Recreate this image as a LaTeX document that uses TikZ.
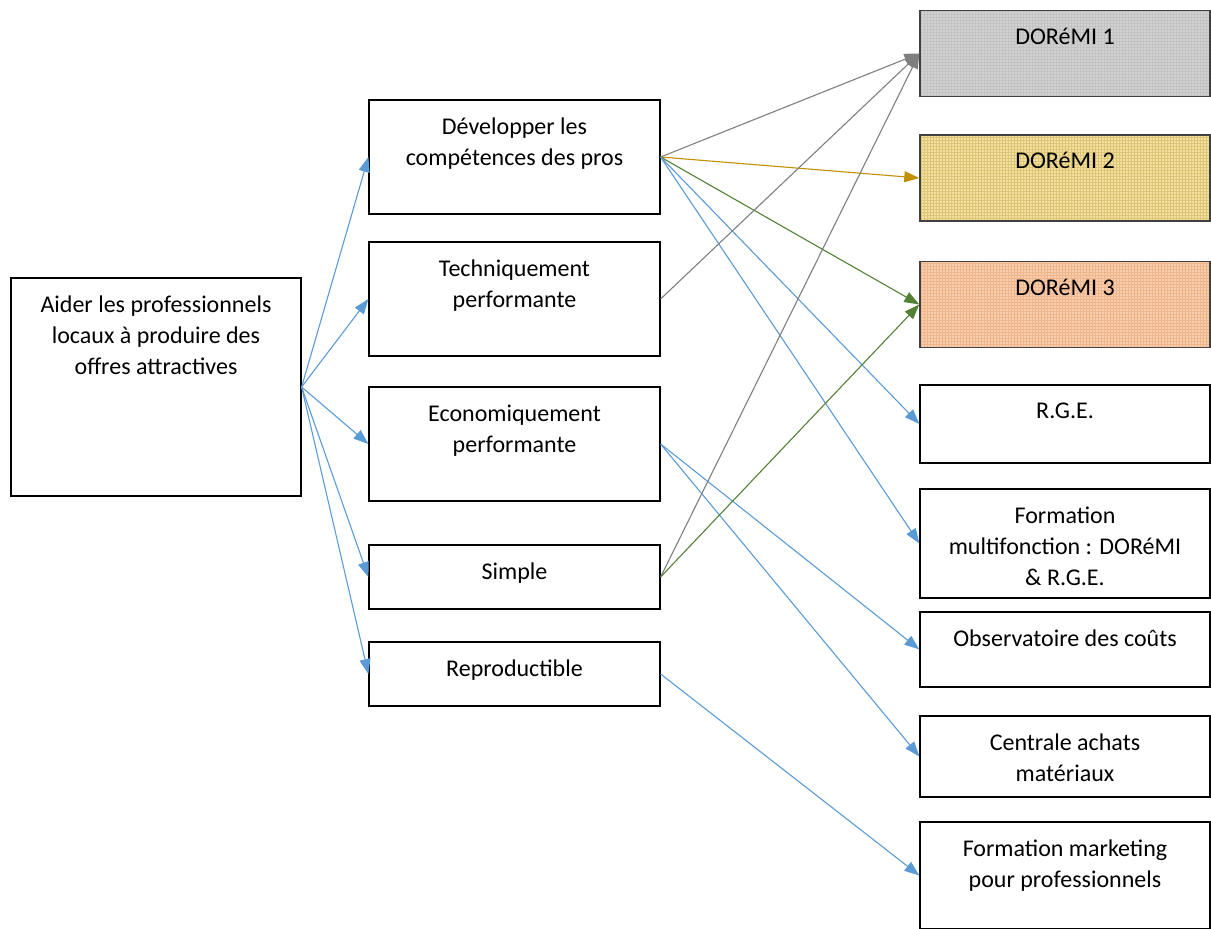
\documentclass[tikz,border=0pt]{standalone}
\usepackage{fontspec}
\setmainfont{Carlito}
\usetikzlibrary{arrows.meta,patterns}
\definecolor{arrblue}{HTML}{5B9BD5}
\definecolor{arrgray}{HTML}{7F7F7F}
\definecolor{arrgold}{HTML}{BF9000}
\definecolor{arrgreen}{HTML}{538135}
\definecolor{gbase}{HTML}{D2D2D2}
\definecolor{ggrid}{HTML}{9A9A9A}
\definecolor{ybase}{HTML}{F2E0A0}
\definecolor{ygrid}{HTML}{D2AE3C}
\definecolor{obase}{HTML}{F8CDB0}
\definecolor{ogrid}{HTML}{E8955A}
\definecolor{dborder}{HTML}{404040}
\tikzset{
  box/.style={draw=black, line width=1.2pt, rectangle, inner sep=0pt},
  dbox/.style={draw=dborder, line width=1.4pt, rectangle, inner sep=0pt,
    minimum width=290pt, minimum height=86pt},
  txt/.style={font=\fontsize{24}{31}\selectfont, align=center, anchor=north, inner sep=0pt},
  arr/.style={line width=1.1pt, -{Triangle[length=15pt,width=11pt]}},
}
\begin{document}
\begin{tikzpicture}[x=1pt,y=-1pt]
\useasboundingbox (0,0) rectangle (1211,929);
% left column
\node[box, minimum width=290pt, minimum height=218pt] (aider) at (156,387) {};
\node[txt] (taider) at ([yshift=-18pt]aider.north) {Aider les professionnels\\locaux à produire des\\offres attractives};
% middle column
\node[box, minimum width=291pt, minimum height=114pt] (dev) at (514.5,157) {};
\node[txt] (tdev) at ([yshift=-18pt]dev.north) {Développer les\\compétences des pros};
\node[box, minimum width=291pt, minimum height=114pt] (tech) at (514.5,299) {};
\node[txt] (ttech) at ([yshift=-18pt]tech.north) {Techniquement\\performante};
\node[box, minimum width=291pt, minimum height=114pt] (eco) at (514.5,444) {};
\node[txt] (teco) at ([yshift=-18pt]eco.north) {Economiquement\\performante};
\node[box, minimum width=291pt, minimum height=64pt] (simp) at (514.5,577) {};
\node[txt] (tsimp) at ([yshift=-18pt]simp.north) {Simple};
\node[box, minimum width=291pt, minimum height=64pt] (repro) at (514.5,674) {};
\node[txt] (trepro) at ([yshift=-18pt]repro.north) {Reproductible};
% right column
\node[dbox, preaction={fill=gbase}, preaction={pattern=grid, pattern color=ggrid!60}] (d1) at (1065,53.5) {};
\node[txt] (td1) at ([yshift=-18pt]d1.north) {DORéMI 1};
\node[dbox, preaction={fill=ybase}, preaction={pattern=grid, pattern color=ygrid!70}] (d2) at (1065,178) {};
\node[txt] (td2) at ([yshift=-18pt]d2.north) {DORéMI 2};
\node[dbox, preaction={fill=obase}, preaction={pattern=grid, pattern color=ogrid!70}] (d3) at (1065,304.5) {};
\node[txt] (td3) at ([yshift=-18pt]d3.north) {DORéMI 3};
\node[box, minimum width=290pt, minimum height=78pt] (rge) at (1065,424) {};
\node[txt] (trge) at ([yshift=-18pt]rge.north) {R.G.E.};
\node[box, minimum width=290pt, minimum height=109pt] (fmulti) at (1065,543.5) {};
\node[txt] (tfmulti) at ([yshift=-18pt]fmulti.north) {Formation\\multifonction : DORéMI\\\& R.G.E.};
\node[box, minimum width=290pt, minimum height=75pt] (obs) at (1065,649.5) {};
\node[txt] (tobs) at ([yshift=-18pt]obs.north) {Observatoire des coûts};
\node[box, minimum width=290pt, minimum height=81pt] (cent) at (1065,756.5) {};
\node[txt] (tcent) at ([yshift=-18pt]cent.north) {Centrale achats\\matériaux};
\node[box, minimum width=290pt, minimum height=107pt] (mark) at (1065,875.5) {};
\node[txt] (tmark) at ([yshift=-18pt]mark.north) {Formation marketing\\pour professionnels};
% arrows from aider
\foreach \t in {dev,tech,eco,simp,repro}
  \draw[arr, arrblue] (aider.east) -- (\t.west);
% arrows from dev
\draw[arr, arrgray] (dev.east) -- (d1.west);
\draw[arr, arrgold] (dev.east) -- (d2.west);
\draw[arr, arrgreen] (dev.east) -- (d3.west);
\draw[arr, arrblue] (dev.east) -- (rge.west);
\draw[arr, arrblue] (dev.east) -- (fmulti.west);
% tech
\draw[arr, arrgray] (tech.east) -- (d1.west);
% eco
\draw[arr, arrblue] (eco.east) -- (obs.west);
\draw[arr, arrblue] (eco.east) -- (cent.west);
% simple
\draw[arr, arrgray] (simp.east) -- (d1.west);
\draw[arr, arrgreen] (simp.east) -- (d3.west);
% repro
\draw[arr, arrblue] (repro.east) -- (mark.west);
\end{tikzpicture}
\end{document}
